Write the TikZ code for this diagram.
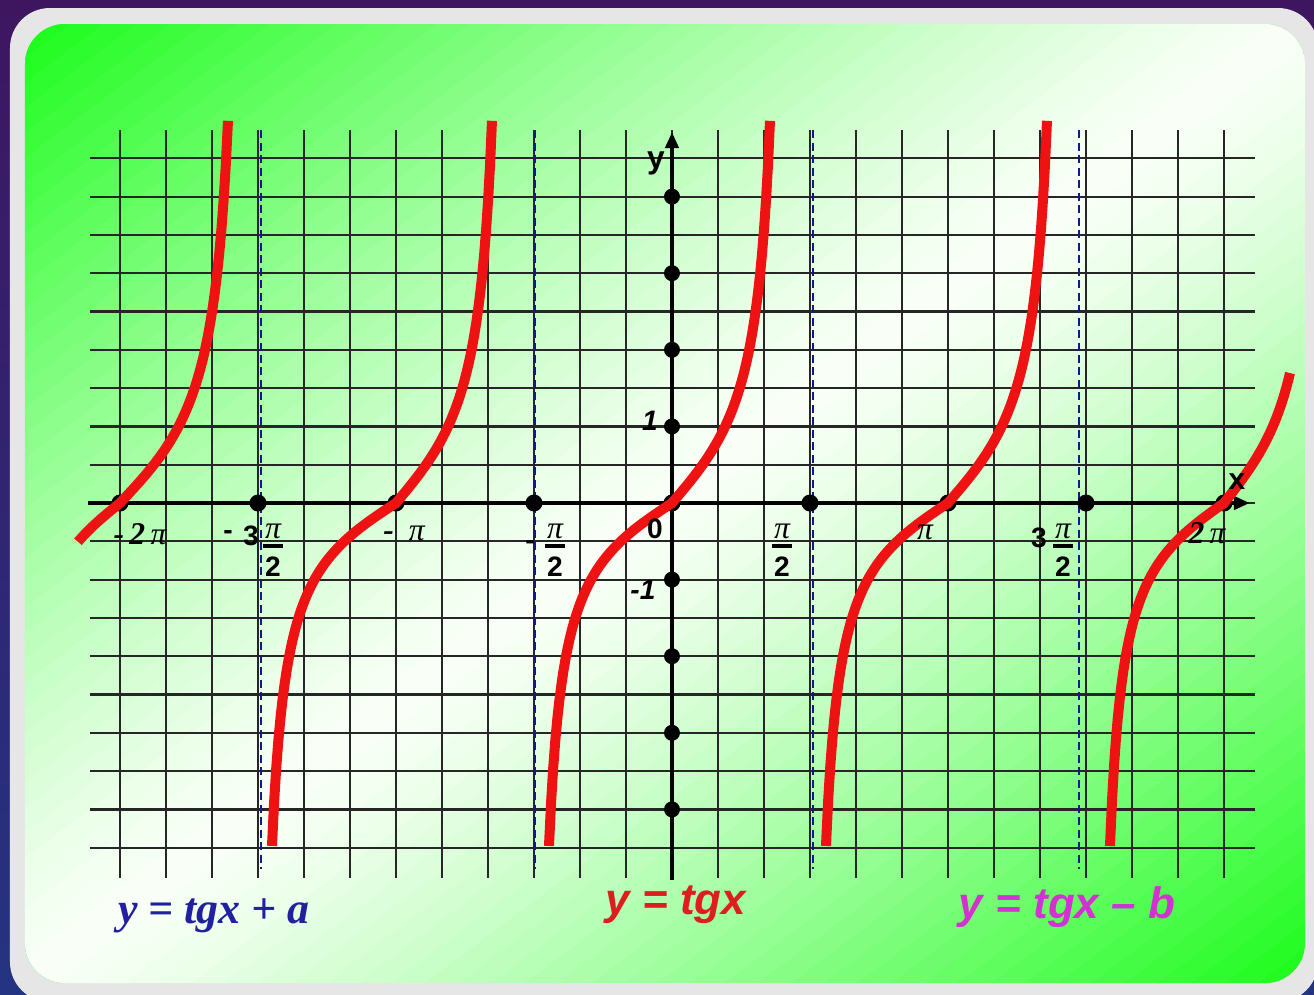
\documentclass[tikz,border=0pt]{standalone}
\usepackage{fontspec}
\setmainfont{Liberation Serif}
\setsansfont{Liberation Sans}
\usetikzlibrary{arrows.meta}

\definecolor{framebg}{RGB}{62,22,96}
\definecolor{framelo}{RGB}{36,52,130}
\definecolor{bordergray}{RGB}{230,230,230}
\definecolor{boardgreen}{RGB}{28,252,28}
\definecolor{boardwhite}{RGB}{250,255,248}
\definecolor{curvered}{RGB}{238,18,18}
\definecolor{asymblue}{RGB}{16,26,140}
\definecolor{textblue}{RGB}{32,32,160}
\definecolor{textred}{RGB}{222,30,30}
\definecolor{textmag}{RGB}{210,50,210}

\begin{document}
\begin{tikzpicture}[x=0.1mm,y=0.1mm,
  gridline/.style={line width=0.22mm,black!85},
  asym/.style={asymblue,line width=0.28mm,dash pattern=on 0.8mm off 0.45mm},
  axisline/.style={line width=0.45mm,-{Triangle[length=1.6mm,width=1.3mm]}},
  curve/.style={curvered,line width=1mm},
  dot/.style={circle,fill=black,inner sep=0pt,minimum size=1.7mm},
  fracbar/.style={line width=0.38mm},
  numlab/.style={font=\fontsize{8}{8}\selectfont\sffamily\bfseries,inner sep=0pt},
  pilab/.style={font=\fontsize{9}{9}\selectfont\itshape,inner sep=0pt},
  formula/.style={font=\fontsize{12.5}{14}\selectfont\sffamily\bfseries\itshape,inner sep=0pt}
]
% frame and board
\useasboundingbox (-672,-491) rectangle (642,503);
\clip (-672,-491) rectangle (642,503);
\shade[top color=framebg,bottom color=framelo] (-672,-491) rectangle (642,503);
\fill[bordergray,rounded corners=4mm] (-662,495) rectangle (646,-499);
\begin{scope}
  \clip[rounded corners=4mm] (-647,479) rectangle (633,-480);
  \fill[boardgreen] (-647,479) rectangle (633,-480);
  % diagonal green-white-green strips
  \begin{scope}[rotate around={-53.13:(-7,0)}]
    \foreach \i in {-40,...,39} {
      \pgfmathsetmacro\t{100*min(1,(abs(\i+0.5)/38)^1.25)}
      \fill[boardgreen!\t!boardwhite] (\i*20-7,-1100) rectangle (\i*20+14,1100);
    }
  \end{scope}
\end{scope}

% grid
\foreach \j in {-9,...,9}
  \draw[gridline] (-582,\j*38.3) -- (583,\j*38.3);
\foreach \i in {-12,...,12}
  \draw[gridline] (\i*46,373) -- (\i*46,-375);

% asymptotes
\foreach \a in {-411,-137,141,407}
  \draw[asym] (\a,373) -- (\a,-366);

% axes
\draw[axisline] (-584,0) -- (578,0);
\draw[axisline] (0,-377) -- (0,371);
\foreach \k [count=\n] in {-4,...,4}
  \node[dot] (xd\n) at (\k*138,0) {};
\foreach \m [count=\n] in {-4,-3,-2,-1,1,2,3,4}
  \node[dot,minimum size=1.6mm] (yd\n) at (0,\m*76.6) {};

% tangent branches
\draw[curve] plot[domain=-42:0,samples=20] (\x-552,{58*tan(80.4*\x/100)})
  -- plot[domain=0:108,samples=50] (\x-552,{85*tan(77.46*\x/108)});
\foreach \c/\B/\T in {-276/124/96,0/123/98,276/122/99}
  \draw[curve] plot[domain=-\B:0,samples=60] (\x+\c,{58*tan(80.4*\x/\B)})
    -- plot[domain=0:\T,samples=50] (\x+\c,{85*tan(77.46*\x/\T)});
\draw[curve] plot[domain=-114:0,samples=60] (\x+552,{58*tan(80.4*\x/114)})
  -- plot[domain=0:66,samples=40] (\x+552,{85*tan(77.46*\x/90)});

% axis labels
\node[font=\fontsize{9}{9}\selectfont\sffamily\bfseries,inner sep=0pt] (ylab) at (-16,340) {y};
\node[font=\fontsize{8.5}{9}\selectfont\sffamily\bfseries,inner sep=0pt] (xlab) at (565,21) {x};
\node[numlab,font=\fontsize{8}{8}\selectfont\sffamily\bfseries\itshape] (one) at (-22,82) {1};
\node[numlab,font=\fontsize{8}{8}\selectfont\sffamily\bfseries\itshape] (mone) at (-29,-87) {-1};
\node[numlab] (zero) at (-17,-26) {0};

\node[pilab] (mtwopi) at (-532,-31) {{\bfseries -}\,\textbf{2}\,π};
\node[numlab] (mthree) at (-444,-32) {-};
\node[numlab] (three) at (-421,-33) {3};
\node[pilab] (mpi) at (-268,-30) {{\bfseries -}\hspace{1.5mm}π};
\node[numlab] (mhalf) at (-142,-42) {-};
\node[pilab] (pi) at (253,-29) {π};
\node[numlab] (threeb) at (367,-35) {3};
\node[pilab] (twopi) at (535,-30) {\textbf{2}\,π};
\foreach \fx [count=\n] in {-399,-117,110,391} {
  \node[pilab] (fnum\n) at (\fx,-28) {π};
  \draw[fracbar] (\fx-10,-43) -- (\fx+10,-43);
  \node[numlab] (fden\n) at (\fx,-64) {2};
}

% formulas
\node[formula,font=\fontsize{12.5}{14}\selectfont\rmfamily\bfseries\itshape,text=textblue] (shiftup) at (-458,-413) {y = tgx + a};
\node[formula,text=textred] (basic) at (4,-402) {y = tgx};
\node[formula,text=textmag] (shiftdown) at (395,-404) {y = tgx – b};
\end{tikzpicture}
\end{document}
